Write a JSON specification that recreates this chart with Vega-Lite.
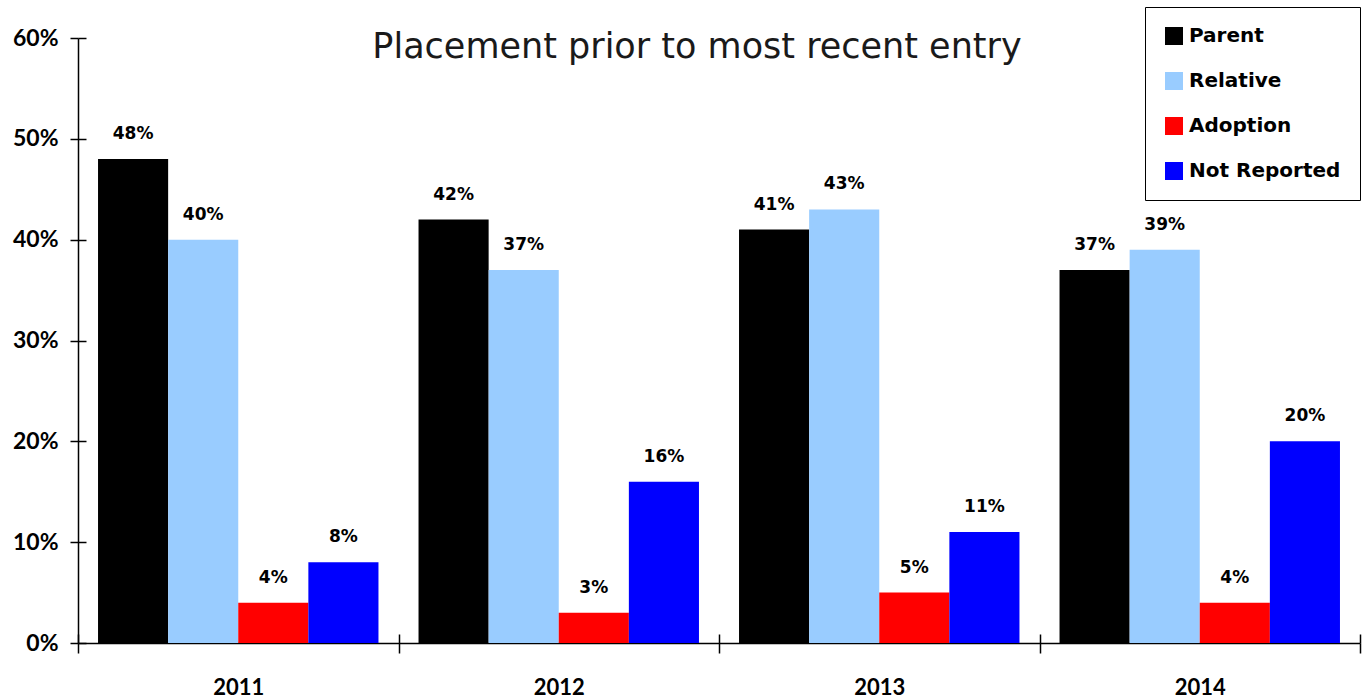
{
  "$schema": "https://vega.github.io/schema/vega-lite/v6.json",
  "width": 1282,
  "height": 605,
  "autosize": {"type": "none"},
  "padding": {"left": 78, "top": 38, "right": 4, "bottom": 55},
  "background": "white",
  "title": {
    "text": "Placement prior to most recent entry",
    "font": "DejaVu Sans",
    "fontSize": 35,
    "fontWeight": "normal",
    "color": "#1a1a1a",
    "anchor": "middle",
    "frame": "group",
    "baseline": "top",
    "offset": -58,
    "dx": -22
  },
  "data": {
    "values": [
      {"year": "2011", "placement": "Parent", "value": 0.48},
      {"year": "2011", "placement": "Relative", "value": 0.40},
      {"year": "2011", "placement": "Adoption", "value": 0.04},
      {"year": "2011", "placement": "Not Reported", "value": 0.08},
      {"year": "2012", "placement": "Parent", "value": 0.42},
      {"year": "2012", "placement": "Relative", "value": 0.37},
      {"year": "2012", "placement": "Adoption", "value": 0.03},
      {"year": "2012", "placement": "Not Reported", "value": 0.16},
      {"year": "2013", "placement": "Parent", "value": 0.41},
      {"year": "2013", "placement": "Relative", "value": 0.43},
      {"year": "2013", "placement": "Adoption", "value": 0.05},
      {"year": "2013", "placement": "Not Reported", "value": 0.11},
      {"year": "2014", "placement": "Parent", "value": 0.37},
      {"year": "2014", "placement": "Relative", "value": 0.39},
      {"year": "2014", "placement": "Adoption", "value": 0.04},
      {"year": "2014", "placement": "Not Reported", "value": 0.20}
    ]
  },
  "encoding": {
    "xOffset": {
      "field": "placement",
      "type": "nominal",
      "sort": ["Parent", "Relative", "Adoption", "Not Reported"],
      "scale": {"paddingInner": 0, "paddingOuter": 0.2857}
    }
  },
  "layer": [
    {
      "mark": {"type": "bar"},
      "encoding": {
        "x": {
          "field": "year",
          "type": "nominal",
          "scale": {"paddingInner": 0, "paddingOuter": 0},
          "axis": {
            "orient": "bottom",
            "title": null,
            "labelAngle": 0,
            "tickBand": "extent",
            "domainColor": "black",
            "domainWidth": 1.5,
            "tickColor": "black",
            "tickWidth": 1.5,
            "tickSize": 10,
            "labelFont": "Lato",
            "labelFontWeight": "bold",
            "labelFontSize": 22,
            "labelColor": "black",
            "labelPadding": 24,
            "labelBaseline": "top",
            "grid": false
          }
        },
        "y": {
          "field": "value",
          "type": "quantitative",
          "scale": {"domain": [0, 0.6], "nice": false},
          "axis": {
            "orient": "left",
            "title": null,
            "values": [0, 0.1, 0.2, 0.3, 0.4, 0.5, 0.6],
            "format": ".0%",
            "grid": false,
            "domainColor": "black",
            "domainWidth": 1.5,
            "tickColor": "black",
            "tickWidth": 1.5,
            "tickSize": 8,
            "labelFont": "Lato",
            "labelFontWeight": "bold",
            "labelFontSize": 23,
            "labelColor": "black",
            "labelPadding": 12
          }
        },
        "color": {
          "field": "placement",
          "type": "nominal",
          "sort": ["Parent", "Relative", "Adoption", "Not Reported"],
          "scale": {
            "domain": ["Parent", "Relative", "Adoption", "Not Reported"],
            "range": ["#000000", "#99CCFF", "#FF0000", "#0000FF"]
          },
          "legend": {
            "orient": "none",
            "legendX": 1067,
            "legendY": -31,
            "title": null,
            "fillColor": "white",
            "strokeColor": "black",
            "padding": 19,
            "rowPadding": 25,
            "symbolType": "square",
            "symbolSize": 324,
            "symbolStrokeWidth": 0,
            "symbolOpacity": 1,
            "labelFont": "DejaVu Sans",
            "labelFontWeight": "bold",
            "labelFontSize": 20,
            "labelColor": "black",
            "labelOffset": 5
          }
        }
      }
    },
    {
      "mark": {
        "type": "text",
        "baseline": "alphabetic",
        "align": "center",
        "dy": -20,
        "font": "DejaVu Sans",
        "fontWeight": "bold",
        "fontSize": 17,
        "color": "black"
      },
      "encoding": {
        "x": {
          "field": "year",
          "type": "nominal",
          "scale": {"paddingInner": 0, "paddingOuter": 0},
          "axis": {
            "orient": "bottom",
            "title": null,
            "labels": false,
            "domain": false,
            "tickBand": "extent",
            "tickColor": "black",
            "tickWidth": 1.5,
            "tickSize": -9,
            "grid": false
          }
        },
        "y": {
          "field": "value",
          "type": "quantitative",
          "scale": {"domain": [0, 0.6], "nice": false},
          "axis": {
            "orient": "left",
            "title": null,
            "labels": false,
            "domain": false,
            "values": [0, 0.1, 0.2, 0.3, 0.4, 0.5, 0.6],
            "grid": false,
            "tickColor": "black",
            "tickWidth": 1.5,
            "tickSize": -8
          }
        },
        "text": {"field": "value", "type": "quantitative", "format": ".0%"}
      }
    }
  ],
  "resolve": {"axis": {"x": "independent", "y": "independent"}},
  "config": {"view": {"stroke": null}}
}
